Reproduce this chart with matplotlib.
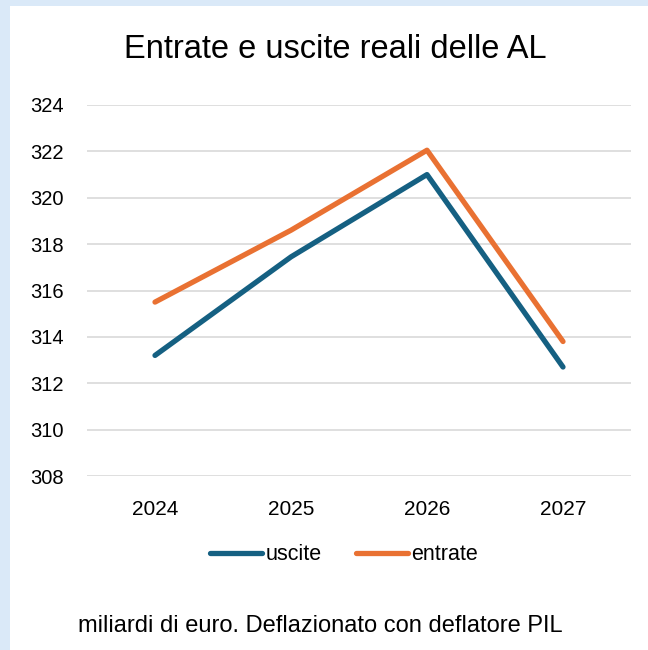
import matplotlib.pyplot as plt

years = ['2024', '2025', '2026', '2027']
uscite = [313.2, 317.45, 321.0, 312.7]
entrate = [315.5, 318.6, 322.05, 313.8]
yticks = [308, 310, 312, 314, 316, 318, 320, 322, 324]

plt.rcParams['font.family'] = ['Liberation Sans', 'DejaVu Sans']

W, H = 648, 650
fig = plt.figure(figsize=(W / 100, H / 100), dpi=100)
fig.patch.set_facecolor('#DAE9F8')

# white chart panel, light blue strip left and top
bg = fig.add_axes([10 / W, 0, 1 - 10 / W, 1 - 6 / H])
bg.set_facecolor('white')
bg.set_xticks([])
bg.set_yticks([])
for s in bg.spines.values():
    s.set_visible(False)

ax = fig.add_axes([87 / W, 1 - 476 / H, 544 / W, (476 - 105) / H])
ax.set_facecolor('none')
x = range(len(years))
ax.plot(x, uscite, color='#156082', lw=3.8, solid_capstyle='round',
        solid_joinstyle='round', label='uscite', zorder=3)
ax.plot(x, entrate, color='#E97132', lw=3.8, solid_capstyle='round',
        solid_joinstyle='round', label='entrate', zorder=3)

ax.set_xlim(-0.5, 3.5)
ax.set_ylim(308, 324)
ax.set_yticks(yticks)
ax.set_xticks(list(x))
ax.set_xticklabels(years, fontsize=15)
ax.set_yticklabels([str(v) for v in yticks], fontsize=14.5)
ax.grid(axis='y', color='#D9D9D9', lw=1.2)
ax.tick_params(length=0, colors='#000000')
ax.tick_params(axis='y', pad=17)
ax.tick_params(axis='x', pad=17)
for s in ax.spines.values():
    s.set_visible(False)

fig.text(335 / W, 1 - 50 / H, 'Entrate e uscite reali delle AL', fontsize=23.5,
         ha='center', va='center')

leg = fig.legend(loc='center', bbox_to_anchor=(344 / W, 1 - 555 / H), ncol=2,
                 frameon=False, fontsize=15.5, handlelength=2.4,
                 handletextpad=0.15, columnspacing=1.6)
for line in leg.get_lines():
    line.set_linewidth(3.8)

fig.text(320 / W, 1 - 626 / H, 'miliardi di euro. Deflazionato con deflatore PIL',
         fontsize=17, ha='center', va='center')

fig.savefig('out.png', dpi=100, facecolor=fig.get_facecolor())
